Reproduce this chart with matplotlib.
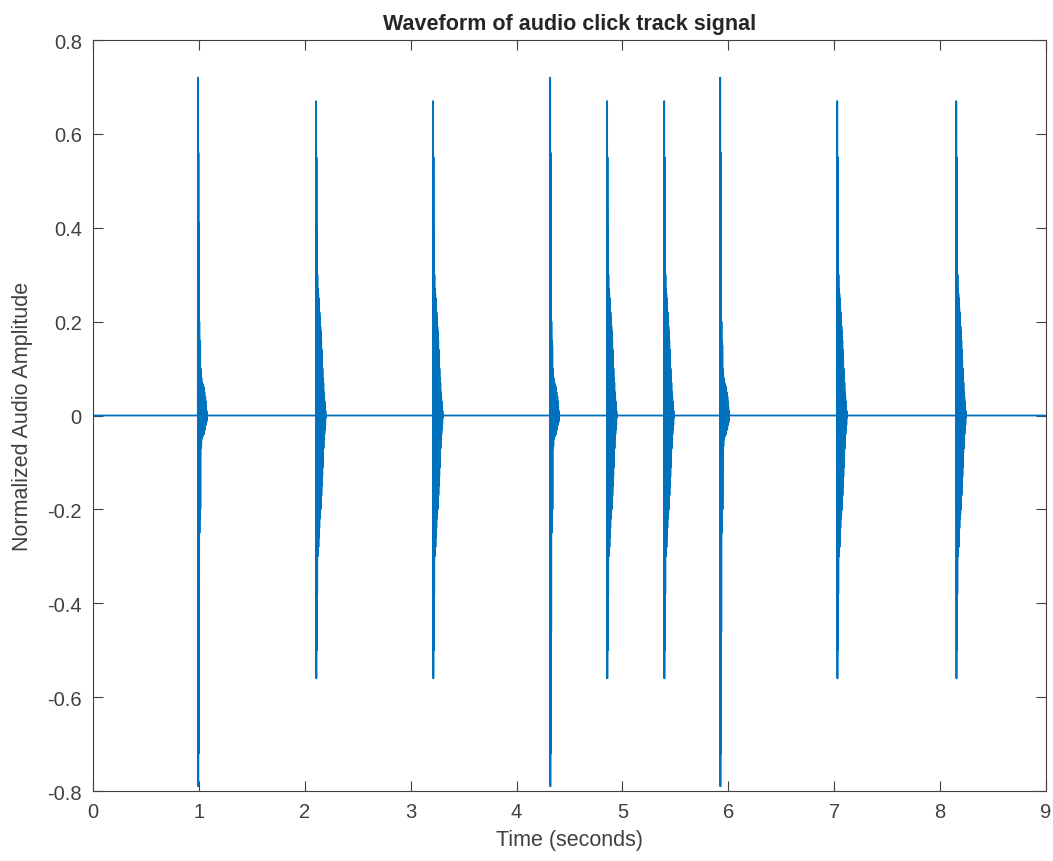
import matplotlib
matplotlib.use("Agg")
import matplotlib.pyplot as plt
import numpy as np

# click onsets (seconds) and which ones are the accented clicks
click_times = [0.992, 2.107, 3.212, 4.317, 4.855, 5.394, 5.923, 7.028, 8.152]
click_accent = [True, False, False, True, False, False, True, False, False]

# sample step of the click templates (seconds)
step = 0.002

# accented click, successive half-cycle peaks
accent_click = [0.72, -0.79, 0.56, -0.72, 0.41, -0.46, 0.20, -0.25, 0.16, -0.22,
                0.15, -0.20, 0.10, -0.07, 0.09, -0.065, 0.08, -0.05, 0.07, -0.04,
                0.07, -0.045, 0.06, -0.04, 0.065, -0.035, 0.05, -0.04, 0.06, -0.03,
                0.05, -0.03, 0.04, -0.03, 0.04, -0.02, 0.03, -0.02, 0.02, -0.015,
                0.01, -0.01, 0.005, 0.0]

# normal click
normal_click = [0.67, -0.56, 0.55, -0.50, 0.40, -0.38, 0.30, -0.30, 0.27, -0.285,
                0.26, -0.28, 0.25, -0.26, 0.23, -0.24, 0.22, -0.22, 0.21, -0.21,
                0.19, -0.20, 0.18, -0.19, 0.16, -0.17, 0.14, -0.15, 0.12, -0.13,
                0.10, -0.11, 0.08, -0.08, 0.07, -0.07, 0.05, -0.05, 0.04, -0.04,
                0.03, -0.03, 0.02, -0.02, 0.01, -0.005, 0.0]

# build the signal from the templates
t = [0.0]
y = [0.0]
for onset, acc in zip(click_times, click_accent):
    tpl = accent_click if acc else normal_click
    t.append(onset - step)
    y.append(0.0)
    for k, v in enumerate(tpl):
        t.append(onset + k * step)
        y.append(v)
t.append(9.0)
y.append(0.0)

plt.rcParams['font.family'] = ['Liberation Sans', 'DejaVu Sans']
axcol = (0.25, 0.25, 0.25)

fig = plt.figure(figsize=(10.53, 8.62), dpi=100)
ax = fig.add_axes([0.0883, 0.0812, 0.9051, 0.8712])
ax.plot(t, y, color='#0072BD', linewidth=1.3)

ax.set_xlim(0, 9)
ax.set_ylim(-0.8, 0.8)
ax.set_xticks(np.arange(0, 10, 1))
ax.set_yticks([-0.8, -0.6, -0.4, -0.2, 0, 0.2, 0.4, 0.6, 0.8])
ax.set_yticklabels(['-0.8', '-0.6', '-0.4', '-0.2', '0', '0.2', '0.4', '0.6', '0.8'])

ax.tick_params(direction='in', length=7, width=0.8, colors=axcol, labelsize=14.5,
               top=True, right=True, pad=8)
for s in ax.spines.values():
    s.set_color(axcol)
    s.set_linewidth(0.8)

ax.set_xlabel('Time (seconds)', fontsize=15.5, color=axcol, labelpad=6)
ax.set_ylabel('Normalized Audio Amplitude', fontsize=15.5, color=axcol, labelpad=10)
ax.set_title('Waveform of audio click track signal', fontsize=15.5, fontweight='bold',
             color=(0.15, 0.15, 0.15), pad=8)

fig.savefig('out.png', dpi=100)
